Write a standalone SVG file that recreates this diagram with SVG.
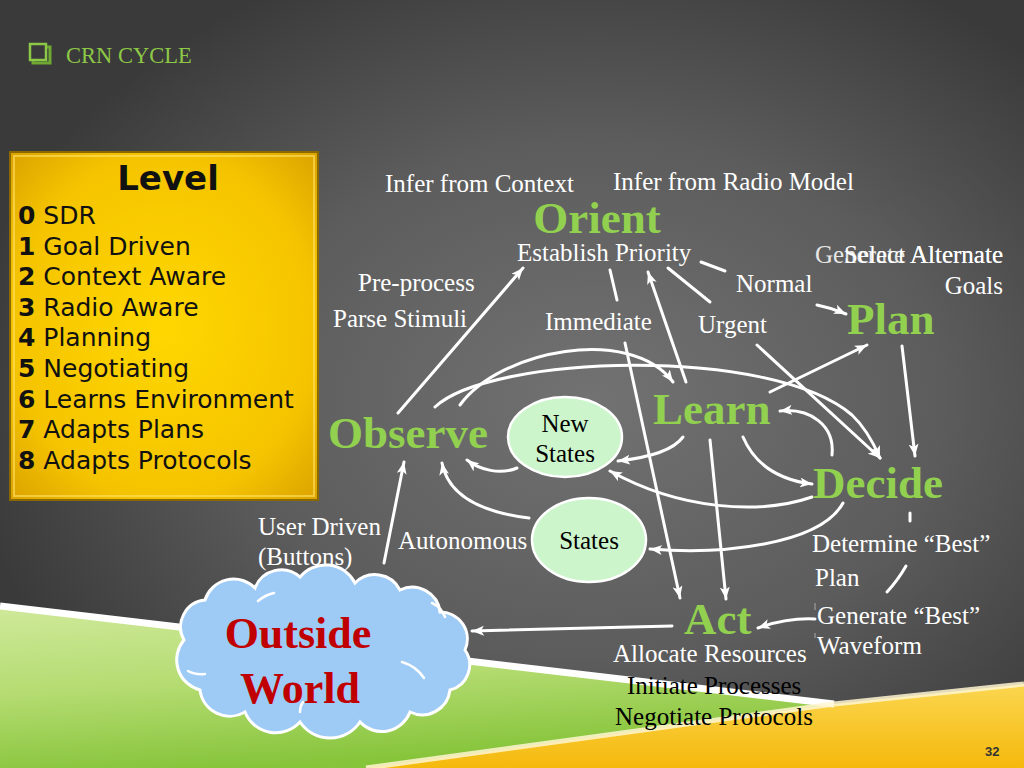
<svg xmlns="http://www.w3.org/2000/svg" width="1024" height="768" viewBox="0 0 1024 768">
<defs>
<radialGradient id="bg" cx="0.58" cy="0.52" r="0.62">
<stop offset="0" stop-color="#727272"/>
<stop offset="0.55" stop-color="#5c5c5c"/>
<stop offset="1" stop-color="#3a3a3a"/>
</radialGradient>
<linearGradient id="grn" x1="0" y1="0" x2="0.3" y2="1">
<stop offset="0" stop-color="#cfe99a"/>
<stop offset="0.5" stop-color="#b5dc72"/>
<stop offset="1" stop-color="#86c43a"/>
</linearGradient>
<linearGradient id="yel" x1="0" y1="0" x2="0" y2="1">
<stop offset="0" stop-color="#fbd650"/>
<stop offset="1" stop-color="#f5b90c"/>
</linearGradient>
<radialGradient id="gold" cx="0.5" cy="0.5" r="0.7">
<stop offset="0" stop-color="#ffd700"/>
<stop offset="0.7" stop-color="#f5c400"/>
<stop offset="1" stop-color="#dca300"/>
</radialGradient>
<marker id="ah" viewBox="0 0 12 10" refX="12" refY="5" markerWidth="12" markerHeight="10" markerUnits="userSpaceOnUse" orient="auto">
<path d="M0,0 L12,5 L0,10 L3,5 z" fill="#ffffff"/>
</marker>
<style>
.lbl{font-family:"Liberation Serif","Times New Roman",serif;font-size:25px;fill:#ffffff}
.blk{font-family:"Liberation Serif","Times New Roman",serif;font-size:25px;fill:#000000}
.big{font-family:"Liberation Serif","Times New Roman",serif;font-size:45px;font-weight:bold;fill:#92d050}
.lvl{font-family:"DejaVu Sans","Liberation Sans",sans-serif;font-size:25px;fill:#111111}
.num{font-weight:bold}
.ln{fill:none;stroke:#ffffff;stroke-width:3;stroke-linecap:round}
.arr{marker-end:url(#ah)}
.st{fill:#ccf5cc;stroke:#ffffff;stroke-width:2.5}
</style>
</defs>

<rect x="0" y="0" width="1024" height="768" fill="url(#bg)"/>
<polygon points="0,606 834,704 366,768 0,768" fill="url(#grn)"/>
<polygon points="366,768 834,704 1024,684 1024,768" fill="url(#yel)"/>
<polyline points="0,606 834,704" fill="none" stroke="#ffffff" stroke-width="7"/>
<polyline points="366,768 834,704 1024,684" fill="none" stroke="#fff6d0" stroke-width="5" opacity="0.85"/>

<g id="title">
<rect x="30" y="44" width="16" height="16" fill="none" stroke="#8dc846" stroke-width="2.5"/>
<path d="M47,47 L50,47 L50,63 L33,63 L33,61" fill="none" stroke="#6fa832" stroke-width="3"/>
<text x="66" y="63" font-family="Liberation Serif,serif" font-size="22.5" fill="#8dc846">CRN CYCLE</text>
</g>

<g id="level">
<rect x="10" y="152" width="308" height="348" fill="url(#gold)" stroke="#8a6a00" stroke-width="2"/>
<rect x="14" y="156" width="300" height="340" fill="none" stroke="#ffe266" stroke-width="2" opacity="0.6"/>
<text x="168" y="190" text-anchor="middle" font-family="DejaVu Sans,sans-serif" font-size="34" font-weight="bold" fill="#111">Level</text>
<text class="lvl" x="18" y="224"><tspan class="num">0</tspan> SDR</text>
<text class="lvl" x="18" y="254.6"><tspan class="num">1</tspan> Goal Driven</text>
<text class="lvl" x="18" y="285.2"><tspan class="num">2</tspan> Context Aware</text>
<text class="lvl" x="18" y="315.8"><tspan class="num">3</tspan> Radio Aware</text>
<text class="lvl" x="18" y="346.4"><tspan class="num">4</tspan> Planning</text>
<text class="lvl" x="18" y="377"><tspan class="num">5</tspan> Negotiating</text>
<text class="lvl" x="18" y="407.6"><tspan class="num">6</tspan> Learns Environment</text>
<text class="lvl" x="18" y="438.2"><tspan class="num">7</tspan> Adapts Plans</text>
<text class="lvl" x="18" y="468.8"><tspan class="num">8</tspan> Adapts Protocols</text>
</g>

<g id="connectors">
<path class="ln arr" d="M398,413 L523,268"/>
<path class="ln arr" d="M435,407 C490,355 770,345 852,415 Q868,430 880,458"/>
<path class="ln arr" d="M460,405 C500,350 630,325 673,382"/>
<path class="ln arr" d="M625,343 L680,598"/>
<path class="ln" d="M610,270 L617,300"/>
<path class="ln arr" d="M686,382 L648,272"/>
<path class="ln" d="M668,268 L710,302"/>
<path class="ln" d="M701,262 L725,271"/>
<path class="ln arr" d="M817,305 Q832,308 846,314"/>
<path class="ln arr" d="M770,392 L867,345"/>
<path class="ln arr" d="M757,345 L880,458"/>
<path class="ln arr" d="M902,346 L915,456"/>
<path class="ln arr" d="M832,455 C835,425 810,408 780,411"/>
<path class="ln arr" d="M743,437 C755,465 780,480 812,484"/>
<path class="ln arr" d="M683,437 C672,452 645,458 618,461"/>
<path class="ln arr" d="M812,497 C760,515 680,510 610,471"/>
<path class="ln arr" d="M843,503 C820,545 720,555 650,549"/>
<path class="ln arr" d="M517,468 C500,475 480,470 467,460"/>
<path class="ln arr" d="M529,518 C480,512 448,495 442,463"/>
<path class="ln arr" d="M384,563 L404,462"/>
<path class="ln arr" d="M672,626 L472,631"/>
<path class="ln arr" d="M815,619 C795,618 775,622 758,628"/>
<path class="ln arr" d="M710,440 L726,599"/>
<path class="ln" d="M910,513 L910,521"/>
<path class="ln" d="M887,592 Q898,580 906,566"/>
<path d="M815,603 L815,610 M815,633 L815,638" stroke="#aaaaaa" stroke-width="1" fill="none"/>
</g>

<g id="orient">
<text class="lbl" x="385" y="192">Infer from Context</text>
<text class="lbl" x="613" y="190">Infer from Radio Model</text>
<text class="big" x="597" y="233" text-anchor="middle" font-size="44">Orient</text>
<text class="lbl" x="517" y="261">Establish Priority</text>
<text class="lbl" x="358" y="291">Pre-process</text>
<text class="lbl" x="333" y="327">Parse Stimuli</text>
<text class="lbl" x="545" y="330">Immediate</text>
<text class="lbl" x="736" y="292">Normal</text>
<text class="lbl" x="698" y="333">Urgent</text>
</g>

<g id="plan">
<text class="lbl" x="1003" y="263" text-anchor="end" opacity="0.85">Generate Alternate</text>
<text class="lbl" x="1003" y="263" text-anchor="end">Select Alternate</text>
<text class="lbl" x="1003" y="294" text-anchor="end">Goals</text>
<text class="big" x="847" y="334">Plan</text>
</g>

<g id="observe">
<text class="big" x="328" y="448">Observe</text>
<text class="lbl" x="258" y="535">User Driven</text>
<text class="lbl" x="258" y="565">(Buttons)</text>
<text class="lbl" x="398" y="549">Autonomous</text>
</g>

<g id="new-states">
<ellipse class="st" cx="565" cy="437" rx="57" ry="40"/>
<text class="blk" x="565" y="432" text-anchor="middle" font-size="24">New</text>
<text class="blk" x="565" y="462" text-anchor="middle" font-size="24">States</text>
</g>

<g id="states">
<ellipse class="st" cx="589" cy="540" rx="57" ry="42"/>
<text class="blk" x="589" y="549" text-anchor="middle" font-size="24">States</text>
</g>

<g id="learn">
<text class="big" x="653" y="424">Learn</text>
</g>

<g id="decide">
<text class="big" x="813" y="498">Decide</text>
<text class="lbl" x="812" y="552">Determine “Best”</text>
<text class="lbl" x="815" y="586">Plan</text>
</g>

<g id="act">
<text class="big" x="684" y="634" font-size="44">Act</text>
<text class="lbl" x="613" y="662">Allocate Resources</text>
<text class="blk" x="627" y="694">Initiate Processes</text>
<text class="blk" x="615" y="725">Negotiate Protocols</text>
<text class="lbl" x="817" y="624">Generate “Best”</text>
<text class="lbl" x="817" y="654">Waveform</text>
</g>

<g id="outside-world">
<path d="M184,640 A27,27 0 0 1 205,600 A30,30 0 0 1 255,588 A28,28 0 0 1 300,577 A33,33 0 0 1 355,583 A28,28 0 0 1 400,590 A28,28 0 0 1 440,612 A27,27 0 0 1 465,650 A26,26 0 0 1 450,690 A28,28 0 0 1 410,712 A30,30 0 0 1 360,722 A36,36 0 0 1 300,722 A33,33 0 0 1 245,712 A30,30 0 0 1 200,690 A31,31 0 0 1 184,640 Z" fill="#9dcbf6" stroke="#ffffff" stroke-width="3"/>
<path d="M258,601 q7,-6 16,-8 M432,603 q9,4 13,14 M402,662 q14,4 22,16 M205,674 q-10,1 -17,-3 M300,712 q0,-6 3,-10" fill="none" stroke="#ffffff" stroke-width="2.5" stroke-linecap="round"/>
<text x="298" y="648" text-anchor="middle" font-family="Liberation Serif,serif" font-size="44" font-weight="bold" fill="#c00000">Outside</text>
<text x="300" y="703" text-anchor="middle" font-family="Liberation Serif,serif" font-size="44" font-weight="bold" fill="#c00000">World</text>
</g>

<text x="985" y="756" font-family="Liberation Sans,sans-serif" font-size="13" font-weight="bold" fill="#333">32</text>
</svg>
